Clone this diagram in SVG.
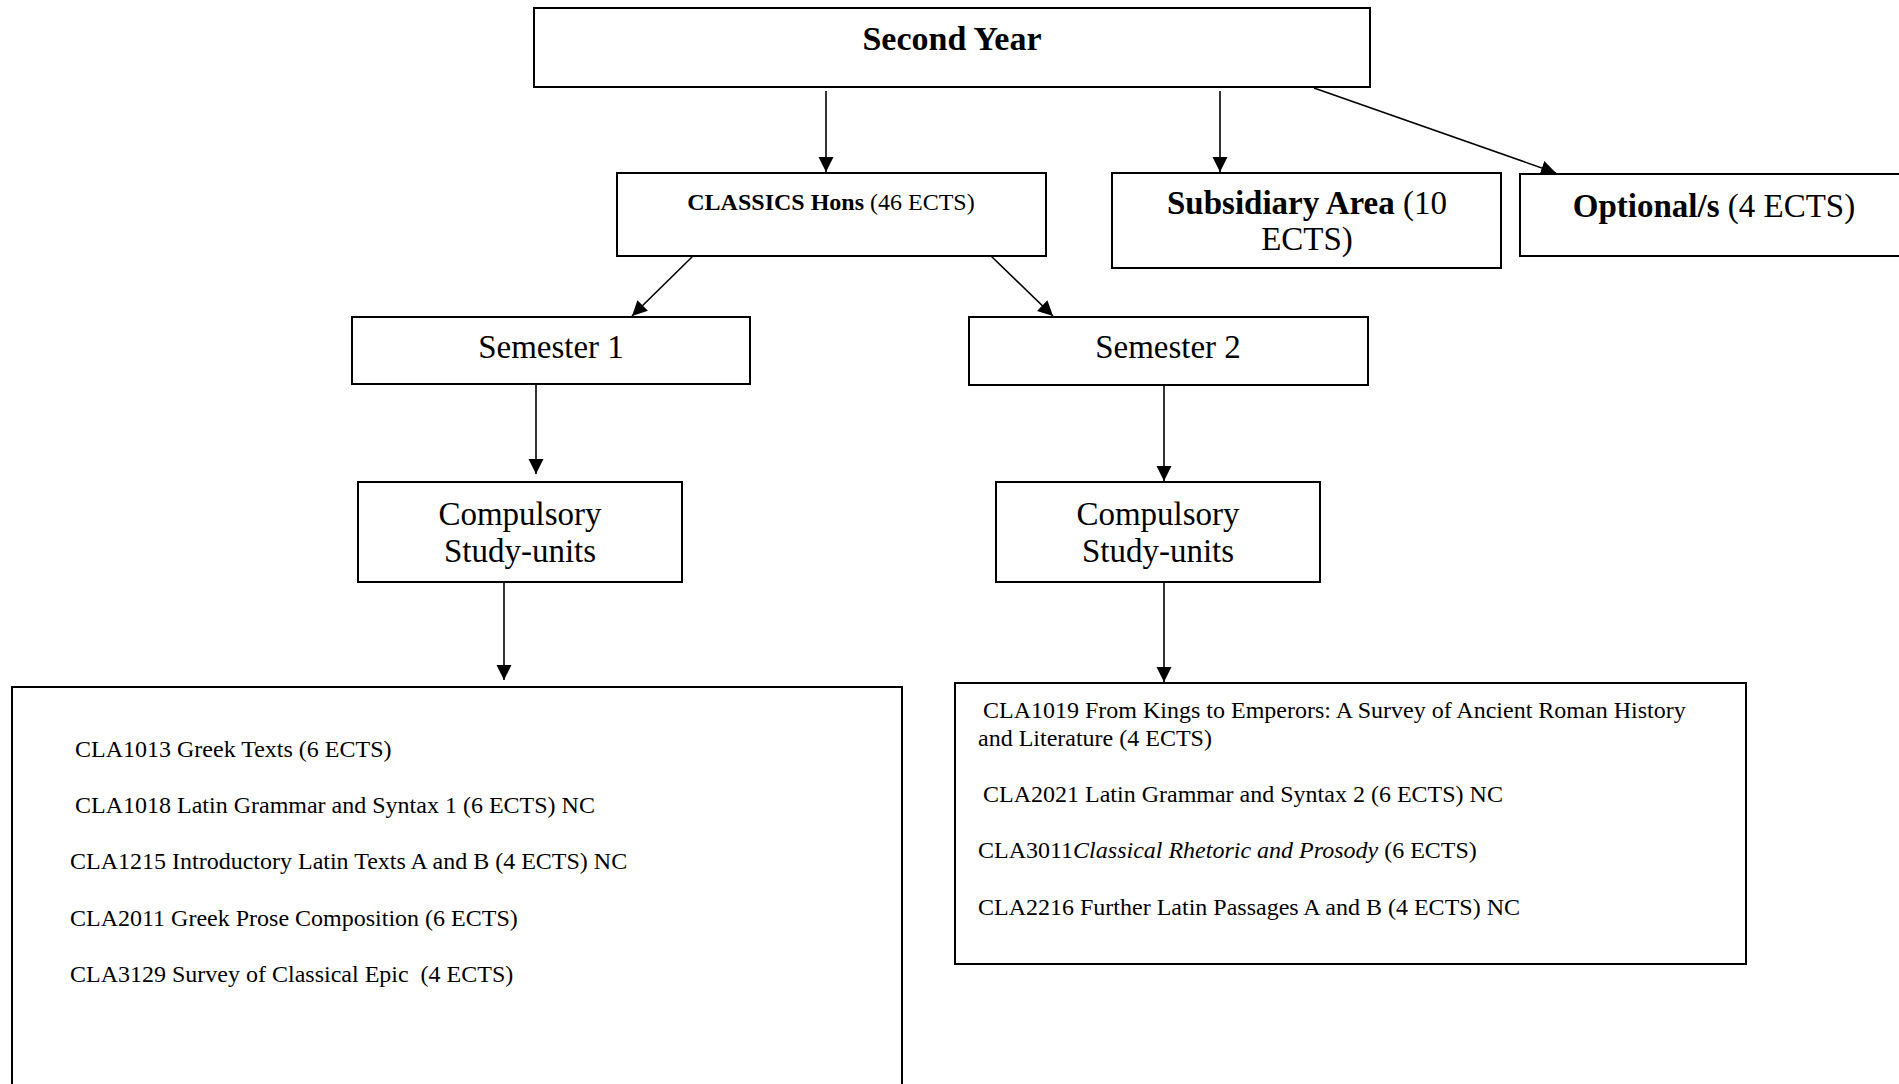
<svg xmlns="http://www.w3.org/2000/svg" width="1899" height="1084" viewBox="0 0 1899 1084">
<style>
  .box { fill: #fff; stroke: #000; stroke-width: 2; }
  .t { font-family: "Liberation Serif", "DejaVu Serif", serif; fill: #000; }
  .c { text-anchor: middle; }
  .b { font-weight: bold; }
  .it { font-style: italic; }
  .conn { stroke: #000; stroke-width: 1.6; fill: none; marker-end: url(#arr); }
  .lst { font-size: 24px; }
  .mid { font-size: 33px; }
</style>
<defs>
  <marker id="arr" markerUnits="userSpaceOnUse" markerWidth="16" markerHeight="16" refX="15" refY="7.5" orient="auto">
    <path d="M0,0 L15,7.5 L0,15 z" fill="#000"/>
  </marker>
</defs>
<rect width="1899" height="1084" fill="#fff"/>

<g id="connectors">
  <line class="conn" x1="826" y1="91" x2="826" y2="172"/>
  <line class="conn" x1="1220" y1="91" x2="1220" y2="172"/>
  <line class="conn" x1="1314" y1="88" x2="1556" y2="173"/>
  <line class="conn" x1="694" y1="255" x2="632" y2="316"/>
  <line class="conn" x1="990" y1="255" x2="1053" y2="316"/>
  <line class="conn" x1="536" y1="376" x2="536" y2="474"/>
  <line class="conn" x1="1164" y1="385" x2="1164" y2="481"/>
  <line class="conn" x1="504" y1="582" x2="504" y2="680"/>
  <line class="conn" x1="1164" y1="582" x2="1164" y2="682"/>
</g>

<g id="second-year">
  <rect class="box" x="534" y="8" width="836" height="79"/>
  <text class="t c b" x="952" y="50" font-size="34">Second Year</text>
</g>

<g id="classics-hons">
  <rect class="box" x="617" y="173" width="429" height="83"/>
  <text class="t c" x="831" y="210" font-size="24"><tspan class="b">CLASSICS Hons</tspan> (46 ECTS)</text>
</g>

<g id="subsidiary-area">
  <rect class="box" x="1112" y="173" width="389" height="95"/>
  <text class="t c" x="1307" y="214" font-size="33"><tspan class="b">Subsidiary Area</tspan> (10</text>
  <text class="t c" x="1307" y="250" font-size="33">ECTS)</text>
</g>

<g id="optional">
  <rect class="box" x="1520" y="174" width="400" height="82"/>
  <text class="t c" x="1714" y="217" font-size="33"><tspan class="b">Optional/s</tspan> (4 ECTS)</text>
</g>

<g id="semester-1">
  <rect class="box" x="352" y="317" width="398" height="67"/>
  <text class="t c mid" x="551" y="358">Semester 1</text>
</g>

<g id="semester-2">
  <rect class="box" x="969" y="317" width="399" height="68"/>
  <text class="t c mid" x="1168" y="358">Semester 2</text>
</g>

<g id="compulsory-1">
  <rect class="box" x="358" y="482" width="324" height="100"/>
  <text class="t c mid" x="520" y="525">Compulsory</text>
  <text class="t c mid" x="520" y="562">Study-units</text>
</g>

<g id="compulsory-2">
  <rect class="box" x="996" y="482" width="324" height="100"/>
  <text class="t c mid" x="1158" y="525">Compulsory</text>
  <text class="t c mid" x="1158" y="562">Study-units</text>
</g>

<g id="units-semester-1">
  <rect class="box" x="12" y="687" width="890" height="420"/>
  <text class="t lst" x="75" y="757">CLA1013 Greek Texts (6 ECTS)</text>
  <text class="t lst" x="75" y="813">CLA1018 Latin Grammar and Syntax 1 (6 ECTS) NC</text>
  <text class="t lst" x="70" y="869">CLA1215 Introductory Latin Texts A and B (4 ECTS) NC</text>
  <text class="t lst" x="70" y="926">CLA2011 Greek Prose Composition (6 ECTS)</text>
  <text class="t lst" x="70" y="982" xml:space="preserve">CLA3129 Survey of Classical Epic  (4 ECTS)</text>
</g>

<g id="units-semester-2">
  <rect class="box" x="955" y="683" width="791" height="281"/>
  <text class="t lst" x="983" y="718">CLA1019 From Kings to Emperors: A Survey of Ancient Roman History</text>
  <text class="t lst" x="978" y="746">and Literature (4 ECTS)</text>
  <text class="t lst" x="983" y="802">CLA2021 Latin Grammar and Syntax 2 (6 ECTS) NC</text>
  <text class="t lst" x="978" y="858">CLA3011<tspan class="it">Classical Rhetoric and Prosody</tspan> (6 ECTS)</text>
  <text class="t lst" x="978" y="915">CLA2216 Further Latin Passages A and B (4 ECTS) NC</text>
</g>
</svg>
